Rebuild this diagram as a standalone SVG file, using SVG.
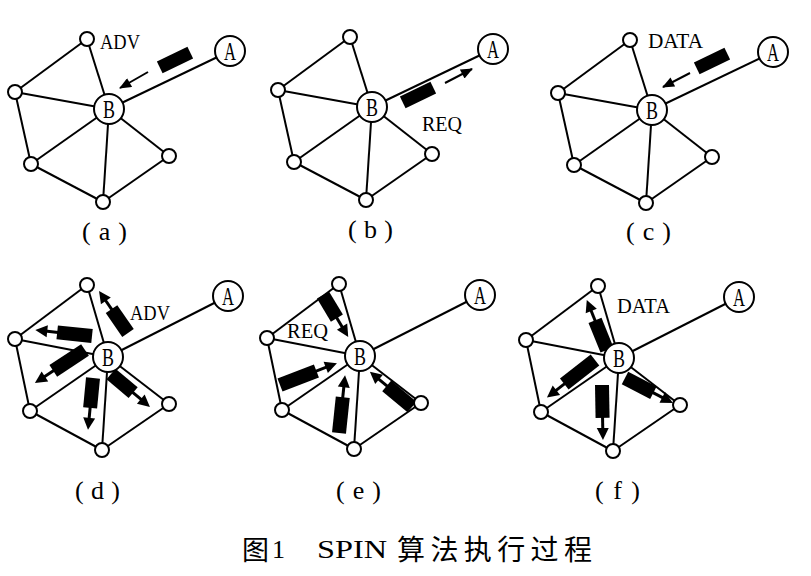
<svg xmlns="http://www.w3.org/2000/svg" width="811" height="576" viewBox="0 0 811 576">
<defs>
<style>
.edge line{stroke:#000;stroke-width:2;fill:none}
.nd{fill:#fff;stroke:#000;stroke-width:2}
.nl{font-family:"Liberation Serif",serif;font-size:25px;fill:#000}
.lbl{font-family:"Liberation Serif",serif;font-size:22px;fill:#000}
.cap{font-family:"Liberation Serif",serif;font-size:26px;fill:#000}
.pk rect,.pk path{fill:#000;stroke:none}
.pk line{stroke:#000;stroke-width:3}
.arr{stroke:#000;stroke-width:2;fill:none}
.lat{font-family:"Liberation Serif",serif;fill:#000}
.cjk{font-family:"Noto Sans CJK SC",sans-serif;fill:#000}
</style>
<marker id="ah" markerUnits="userSpaceOnUse" viewBox="0 0 12 10" refX="11" refY="5" markerWidth="13" markerHeight="10" orient="auto">
<path d="M0,0 L12,5 L0,10 z" fill="#000"/>
</marker>
</defs>
<rect width="811" height="576" fill="#fff"/>

<!-- panel a -->
<g id="panel-a" transform="translate(109,109)">
<g id="a-connectors" class="edge">
<line x1="-22" y1="-70" x2="-94" y2="-17"/><line x1="-22" y1="-70" x2="0" y2="0"/><line x1="-94" y1="-17" x2="0" y2="0"/><line x1="-94" y1="-17" x2="-78" y2="55"/><line x1="-78" y1="55" x2="0" y2="0"/><line x1="-78" y1="55" x2="-6" y2="93"/><line x1="-6" y1="93" x2="0" y2="0"/><line x1="0" y1="0" x2="60" y2="47"/><line x1="60" y1="47" x2="-6" y2="93"/><line x1="0" y1="0" x2="121" y2="-58"/>
</g>
<g class="pk"><rect x="-17" y="-6.5" width="34" height="13" transform="translate(66,-49) rotate(-26)"/></g>
<line class="arr" x1="39" y1="-37" x2="11" y2="-21" marker-end="url(#ah)"/>
<g id="a-top"><circle class="nd" cx="-22" cy="-70" r="7"/></g>
<g id="a-left"><circle class="nd" cx="-94" cy="-17" r="7"/></g>
<g id="a-bl"><circle class="nd" cx="-78" cy="55" r="7"/></g>
<g id="a-bottom"><circle class="nd" cx="-6" cy="93" r="7"/></g>
<g id="a-right"><circle class="nd" cx="60" cy="47" r="7"/></g>
<g id="a-B"><circle class="nd" cx="0" cy="0" r="15"/><text class="nl" x="-6" y="8.5" textLength="12" lengthAdjust="spacingAndGlyphs">B</text></g>
<g id="a-A"><circle class="nd" cx="121" cy="-58" r="15"/><text class="nl" x="115" y="-49.5" textLength="12" lengthAdjust="spacingAndGlyphs">A</text></g>
<text class="lbl" x="-9" y="-60" textLength="40" lengthAdjust="spacingAndGlyphs">ADV</text>
<text class="cap" x="-27" y="131" textLength="45">( a )</text>
</g>

<!-- panel b -->
<g id="panel-b" transform="translate(372,107)">
<g id="b-connectors" class="edge">
<line x1="-22" y1="-70" x2="-94" y2="-17"/><line x1="-22" y1="-70" x2="0" y2="0"/><line x1="-94" y1="-17" x2="0" y2="0"/><line x1="-94" y1="-17" x2="-78" y2="55"/><line x1="-78" y1="55" x2="0" y2="0"/><line x1="-78" y1="55" x2="-6" y2="93"/><line x1="-6" y1="93" x2="0" y2="0"/><line x1="0" y1="0" x2="60" y2="47"/><line x1="60" y1="47" x2="-6" y2="93"/><line x1="0" y1="0" x2="121" y2="-58"/>
</g>
<g class="pk"><rect x="-17" y="-6.5" width="34" height="13" transform="translate(46,-12) rotate(-26)"/></g>
<line class="arr" x1="73" y1="-24" x2="100" y2="-38" marker-end="url(#ah)"/>
<g id="b-top"><circle class="nd" cx="-22" cy="-70" r="7"/></g>
<g id="b-left"><circle class="nd" cx="-94" cy="-17" r="7"/></g>
<g id="b-bl"><circle class="nd" cx="-78" cy="55" r="7"/></g>
<g id="b-bottom"><circle class="nd" cx="-6" cy="93" r="7"/></g>
<g id="b-right"><circle class="nd" cx="60" cy="47" r="7"/></g>
<g id="b-B"><circle class="nd" cx="0" cy="0" r="15"/><text class="nl" x="-6" y="8.5" textLength="12" lengthAdjust="spacingAndGlyphs">B</text></g>
<g id="b-A"><circle class="nd" cx="121" cy="-58" r="15"/><text class="nl" x="115" y="-49.5" textLength="12" lengthAdjust="spacingAndGlyphs">A</text></g>
<text class="lbl" x="50" y="24" textLength="40" lengthAdjust="spacingAndGlyphs">REQ</text>
<text class="cap" x="-24" y="131" textLength="45">( b )</text>
</g>

<!-- panel c -->
<g id="panel-c" transform="translate(652,110)">
<g id="c-connectors" class="edge">
<line x1="-22" y1="-70" x2="-94" y2="-17"/><line x1="-22" y1="-70" x2="0" y2="0"/><line x1="-94" y1="-17" x2="0" y2="0"/><line x1="-94" y1="-17" x2="-78" y2="55"/><line x1="-78" y1="55" x2="0" y2="0"/><line x1="-78" y1="55" x2="-6" y2="93"/><line x1="-6" y1="93" x2="0" y2="0"/><line x1="0" y1="0" x2="60" y2="47"/><line x1="60" y1="47" x2="-6" y2="93"/><line x1="0" y1="0" x2="121" y2="-58"/>
</g>
<g class="pk"><rect x="-17" y="-6.5" width="34" height="13" transform="translate(60,-49) rotate(-26)"/></g>
<line class="arr" x1="38" y1="-37" x2="11" y2="-23" marker-end="url(#ah)"/>
<g id="c-top"><circle class="nd" cx="-22" cy="-70" r="7"/></g>
<g id="c-left"><circle class="nd" cx="-94" cy="-17" r="7"/></g>
<g id="c-bl"><circle class="nd" cx="-78" cy="55" r="7"/></g>
<g id="c-bottom"><circle class="nd" cx="-6" cy="93" r="7"/></g>
<g id="c-right"><circle class="nd" cx="60" cy="47" r="7"/></g>
<g id="c-B"><circle class="nd" cx="0" cy="0" r="15"/><text class="nl" x="-6" y="8.5" textLength="12" lengthAdjust="spacingAndGlyphs">B</text></g>
<g id="c-A"><circle class="nd" cx="121" cy="-58" r="15"/><text class="nl" x="115" y="-49.5" textLength="12" lengthAdjust="spacingAndGlyphs">A</text></g>
<text class="lbl" x="-4" y="-62" textLength="55" lengthAdjust="spacingAndGlyphs">DATA</text>
<text class="cap" x="-26" y="130" textLength="45">( c )</text>
</g>

<!-- panel d -->
<g id="panel-d" transform="translate(108,357)">
<g id="d-connectors" class="edge">
<line x1="-21" y1="-72" x2="-93" y2="-18"/><line x1="-21" y1="-72" x2="0" y2="0"/><line x1="-93" y1="-18" x2="0" y2="0"/><line x1="-93" y1="-18" x2="-78" y2="54"/><line x1="-78" y1="54" x2="0" y2="0"/><line x1="-78" y1="54" x2="-6" y2="93"/><line x1="-6" y1="93" x2="0" y2="0"/><line x1="0" y1="0" x2="61" y2="47"/><line x1="61" y1="47" x2="-6" y2="93"/><line x1="0" y1="0" x2="120" y2="-61"/>
</g>
<g class="pk" transform="translate(20,-24) rotate(-124.6)"><rect x="0" y="-7" width="29" height="14"/><line x1="28" y1="0" x2="41" y2="0"/><path d="M39,-6 L51,0 L39,6 z"/></g>
<g class="pk" transform="translate(-16,-21) rotate(-174)"><rect x="0" y="-7" width="35" height="14"/><line x1="34" y1="0" x2="47" y2="0"/><path d="M45,-6 L57,0 L45,6 z"/></g>
<g class="pk" transform="translate(-23,-7) rotate(146.6)"><rect x="0" y="-7" width="38" height="14"/><line x1="37" y1="0" x2="50" y2="0"/><path d="M48,-6 L60,0 L48,6 z"/></g>
<g class="pk" transform="translate(-15,21) rotate(95.5)"><rect x="0" y="-7" width="30" height="14"/><line x1="29" y1="0" x2="42" y2="0"/><path d="M40,-6 L52,0 L40,6 z"/></g>
<g class="pk" transform="translate(3,17) rotate(40.2)"><rect x="0" y="-7" width="29" height="14"/><line x1="28" y1="0" x2="41" y2="0"/><path d="M39,-6 L51,0 L39,6 z"/></g>
<g id="d-top"><circle class="nd" cx="-21" cy="-72" r="7"/></g>
<g id="d-left"><circle class="nd" cx="-93" cy="-18" r="7"/></g>
<g id="d-bl"><circle class="nd" cx="-78" cy="54" r="7"/></g>
<g id="d-bottom"><circle class="nd" cx="-6" cy="93" r="7"/></g>
<g id="d-right"><circle class="nd" cx="61" cy="47" r="7"/></g>
<g id="d-B"><circle class="nd" cx="0" cy="0" r="15"/><text class="nl" x="-6" y="8.5" textLength="12" lengthAdjust="spacingAndGlyphs">B</text></g>
<g id="d-A"><circle class="nd" cx="120" cy="-61" r="15"/><text class="nl" x="114" y="-52.5" textLength="12" lengthAdjust="spacingAndGlyphs">A</text></g>
<text class="lbl" x="22" y="-37" textLength="40" lengthAdjust="spacingAndGlyphs">ADV</text>
<text class="cap" x="-33" y="142" textLength="45">( d )</text>
</g>

<!-- panel e -->
<g id="panel-e" transform="translate(360,356)">
<g id="e-connectors" class="edge">
<line x1="-21" y1="-72" x2="-93" y2="-18"/><line x1="-21" y1="-72" x2="0" y2="0"/><line x1="-93" y1="-18" x2="0" y2="0"/><line x1="-93" y1="-18" x2="-78" y2="54"/><line x1="-78" y1="54" x2="0" y2="0"/><line x1="-78" y1="54" x2="-6" y2="93"/><line x1="-6" y1="93" x2="0" y2="0"/><line x1="0" y1="0" x2="61" y2="47"/><line x1="61" y1="47" x2="-6" y2="93"/><line x1="0" y1="0" x2="120" y2="-61"/>
</g>
<g class="pk" transform="translate(-37,-61) rotate(59)"><rect x="0" y="-7" width="27" height="14"/><line x1="26" y1="0" x2="39" y2="0"/><path d="M37,-6 L49,0 L37,6 z"/></g>
<g class="pk" transform="translate(-80,29) rotate(-21)"><rect x="0" y="-7" width="39" height="14"/><line x1="38" y1="0" x2="51" y2="0"/><path d="M49,-6 L61,0 L49,6 z"/></g>
<g class="pk" transform="translate(-21,77) rotate(-84)"><rect x="0" y="-7" width="36" height="14"/><line x1="35" y1="0" x2="48" y2="0"/><path d="M46,-6 L58,0 L46,6 z"/></g>
<g class="pk" transform="translate(52,51) rotate(-140)"><rect x="0" y="-7" width="33" height="14"/><line x1="32" y1="0" x2="45" y2="0"/><path d="M43,-6 L55,0 L43,6 z"/></g>
<g id="e-top"><circle class="nd" cx="-21" cy="-72" r="7"/></g>
<g id="e-left"><circle class="nd" cx="-93" cy="-18" r="7"/></g>
<g id="e-bl"><circle class="nd" cx="-78" cy="54" r="7"/></g>
<g id="e-bottom"><circle class="nd" cx="-6" cy="93" r="7"/></g>
<g id="e-right"><circle class="nd" cx="61" cy="47" r="7"/></g>
<g id="e-B"><circle class="nd" cx="0" cy="0" r="15"/><text class="nl" x="-6" y="8.5" textLength="12" lengthAdjust="spacingAndGlyphs">B</text></g>
<g id="e-A"><circle class="nd" cx="120" cy="-61" r="15"/><text class="nl" x="114" y="-52.5" textLength="12" lengthAdjust="spacingAndGlyphs">A</text></g>
<text class="lbl" x="-73" y="-18" textLength="41" lengthAdjust="spacingAndGlyphs">REQ</text>
<text class="cap" x="-24" y="143" textLength="45">( e )</text>
</g>

<!-- panel f -->
<g id="panel-f" transform="translate(619,358)">
<g id="f-connectors" class="edge">
<line x1="-21" y1="-72" x2="-93" y2="-18"/><line x1="-21" y1="-72" x2="0" y2="0"/><line x1="-93" y1="-18" x2="0" y2="0"/><line x1="-93" y1="-18" x2="-78" y2="54"/><line x1="-78" y1="54" x2="0" y2="0"/><line x1="-78" y1="54" x2="-6" y2="93"/><line x1="-6" y1="93" x2="0" y2="0"/><line x1="0" y1="0" x2="61" y2="47"/><line x1="61" y1="47" x2="-6" y2="93"/><line x1="0" y1="0" x2="120" y2="-61"/>
</g>
<g class="pk" transform="translate(-12,-8) rotate(-112)"><rect x="0" y="-7" width="32" height="14"/><line x1="31" y1="0" x2="44" y2="0"/><path d="M42,-6 L54,0 L42,6 z"/></g>
<g class="pk" transform="translate(-24,2) rotate(142)"><rect x="0" y="-7" width="39" height="14"/><line x1="38" y1="0" x2="51" y2="0"/><path d="M49,-6 L61,0 L49,6 z"/></g>
<g class="pk" transform="translate(-17,27) rotate(89)"><rect x="0" y="-7" width="33" height="14"/><line x1="32" y1="0" x2="45" y2="0"/><path d="M43,-6 L55,0 L43,6 z"/></g>
<g class="pk" transform="translate(6,20) rotate(27.5)"><rect x="0" y="-7" width="32" height="14"/><line x1="31" y1="0" x2="44" y2="0"/><path d="M42,-6 L54,0 L42,6 z"/></g>
<g id="f-top"><circle class="nd" cx="-21" cy="-72" r="7"/></g>
<g id="f-left"><circle class="nd" cx="-93" cy="-18" r="7"/></g>
<g id="f-bl"><circle class="nd" cx="-78" cy="54" r="7"/></g>
<g id="f-bottom"><circle class="nd" cx="-6" cy="93" r="7"/></g>
<g id="f-right"><circle class="nd" cx="61" cy="47" r="7"/></g>
<g id="f-B"><circle class="nd" cx="0" cy="0" r="15"/><text class="nl" x="-6" y="8.5" textLength="12" lengthAdjust="spacingAndGlyphs">B</text></g>
<g id="f-A"><circle class="nd" cx="120" cy="-61" r="15"/><text class="nl" x="114" y="-52.5" textLength="12" lengthAdjust="spacingAndGlyphs">A</text></g>
<text class="lbl" x="-2" y="-45" textLength="53" lengthAdjust="spacingAndGlyphs">DATA</text>
<text class="cap" x="-24" y="141" textLength="45">( f )</text>
</g>

<g id="caption">
<text class="cjk" x="242" y="560" font-size="27">图</text>
<text class="lat" x="272" y="558" font-size="26">1</text>
<text class="lat" x="317" y="558" font-size="26" textLength="70" lengthAdjust="spacingAndGlyphs">SPIN</text>
<text class="cjk" x="397" y="560" font-size="28" textLength="195">算法执行过程</text>
</g>
</svg>
